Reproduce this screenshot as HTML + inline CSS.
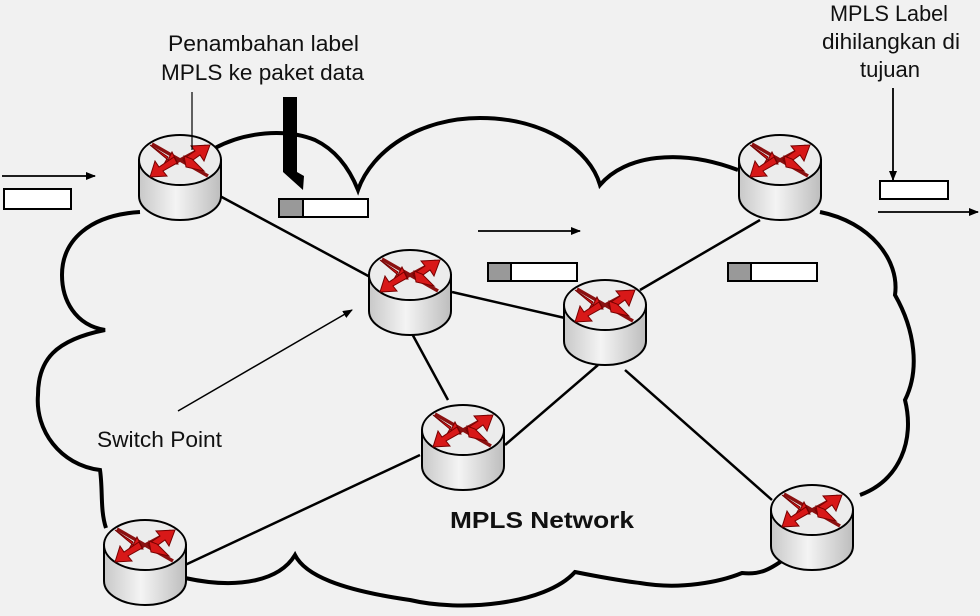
<!DOCTYPE html>
<html><head><meta charset="utf-8"><style>
html,body{margin:0;padding:0;background:#f1f1f1}
svg{display:block}
text{font-family:"Liberation Sans",sans-serif}
</style></head><body>
<svg width="980" height="616" viewBox="0 0 980 616" xmlns="http://www.w3.org/2000/svg">
<defs>
<linearGradient id="body" x1="0" x2="1" y1="0" y2="0">
<stop offset="0" stop-color="#c8c8c8"/><stop offset="0.45" stop-color="#f4f4f4"/><stop offset="1" stop-color="#bdbdbd"/>
</linearGradient>
<marker id="ah" markerWidth="10" markerHeight="8" refX="9" refY="4" orient="auto" markerUnits="userSpaceOnUse">
<path d="M0,0 L10,4 L0,8 Z" fill="#000"/></marker>
<g id="rt">
<path d="M-41,0 L-41,36 A41,24 0 0 0 41,36 L41,0 Z" fill="url(#body)" stroke="#000" stroke-width="2"/>
<ellipse cx="0" cy="0" rx="41" ry="25" fill="#ececec" stroke="#000" stroke-width="2"/>
<g stroke="#8b1010" stroke-width="3.5">
<line x1="-28" y1="-16" x2="28" y2="16"/><line x1="-26" y1="14" x2="26" y2="-14"/>
</g>
<g fill="#d81818" stroke="#700" stroke-width="1">
<path d="M-30,-15 L-12,0 L-8,-8 L-2,4 L-16,4 L-12,-3 Z"/>
<path d="M30,-15 L24,1 L20,-5 L6,5 L3,-1 L15,-9 L11,-14 Z"/>
<path d="M-30,17 L-25,1 L-21,7 L-6,-3 L-3,3 L-17,11 L-13,16 Z"/>
<path d="M4,-4 L12,-1 L24,11 L6,7 Z"/>
</g>
</g>
</defs>

<path d="M215,148 C245,132 285,128 315,140 C340,152 352,175 358,190
C372,150 420,118 480,118 C545,118 590,150 600,185
C625,155 680,148 738,170
M820,212 C870,222 900,260 895,295 C915,330 920,370 905,400 C915,440 900,480 860,495
M790,555 C770,570 760,575 742,573 C720,582 680,590 640,583 C615,580 590,575 575,572
C545,605 460,612 410,600 C340,590 305,575 295,555 C280,580 240,590 185,578
M106,528 C100,510 103,490 100,470 C60,465 35,430 38,395 C38,360 55,340 105,330
C75,325 62,300 62,275 C62,240 90,215 140,212"
fill="none" stroke="#000" stroke-width="4"/>

<g stroke="#000" stroke-width="2.5" fill="none">
<line x1="218" y1="195" x2="372" y2="278"/>
<line x1="452" y1="292" x2="565" y2="318"/>
<line x1="410" y1="330" x2="448" y2="400"/>
<line x1="598" y1="365" x2="505" y2="445"/>
<line x1="640" y1="290" x2="760" y2="220"/>
<line x1="625" y1="370" x2="772" y2="500"/>
<line x1="420" y1="455" x2="185" y2="565"/>
</g>

<use href="#rt" x="180" y="160"/>
<use href="#rt" x="410" y="275"/>
<use href="#rt" x="605" y="305"/>
<use href="#rt" x="463" y="430"/>
<use href="#rt" x="145" y="545"/>
<use href="#rt" x="780" y="160"/>
<use href="#rt" x="812" y="510"/>

<g stroke="#000" stroke-width="2">
<rect x="4" y="189" width="67" height="20" fill="#fff"/>
<rect x="279" y="199" width="89" height="18" fill="#fff"/><rect x="279" y="199" width="24" height="18" fill="#999"/>
<rect x="488" y="263" width="89" height="18" fill="#fff"/><rect x="488" y="263" width="23" height="18" fill="#999"/>
<rect x="728" y="263" width="89" height="18" fill="#fff"/><rect x="728" y="263" width="23" height="18" fill="#999"/>
<rect x="880" y="181" width="68" height="18" fill="#fff"/>
</g>

<g stroke="#000" stroke-width="1.8" fill="none">
<line x1="2" y1="176" x2="95" y2="176" marker-end="url(#ah)"/>
<line x1="478" y1="231" x2="580" y2="231" marker-end="url(#ah)"/>
<line x1="878" y1="212" x2="978" y2="212" marker-end="url(#ah)"/>
<line x1="893" y1="88" x2="893" y2="180" marker-end="url(#ah)"/>
<line x1="192" y1="92" x2="192" y2="150" stroke-width="1.2"/>
<line x1="178" y1="411" x2="352" y2="310" stroke-width="1.5" marker-end="url(#ah)"/>
</g>
<path d="M283,97 L297,97 L297,172 L304,176 L303,190 L283,172 Z" fill="#000"/>

<g font-size="22" fill="#111" lengthAdjust="spacingAndGlyphs">
<text x="168" y="51" textLength="191" lengthAdjust="spacingAndGlyphs">Penambahan label</text>
<text x="161" y="80" textLength="203" lengthAdjust="spacingAndGlyphs">MPLS ke paket data</text>
<text x="830" y="21" textLength="118" lengthAdjust="spacingAndGlyphs">MPLS Label</text>
<text x="822" y="49" textLength="138" lengthAdjust="spacingAndGlyphs">dihilangkan di</text>
<text x="860" y="77" textLength="60" lengthAdjust="spacingAndGlyphs">tujuan</text>
<text x="97" y="447" textLength="125" lengthAdjust="spacingAndGlyphs">Switch Point</text>
</g>
<text x="450" y="528" font-size="23" font-weight="bold" fill="#111" textLength="184" lengthAdjust="spacingAndGlyphs">MPLS Network</text>
</svg>
</body></html>
